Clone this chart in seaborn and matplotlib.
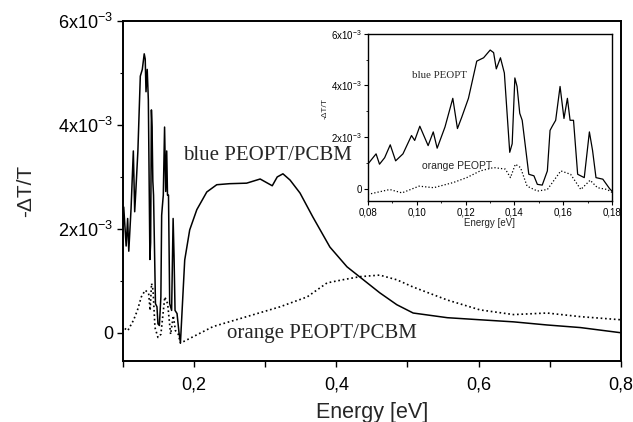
import pandas as pd
import seaborn as sns
import matplotlib
matplotlib.use("Agg")
import matplotlib.pyplot as plt
from matplotlib.ticker import FixedLocator, MultipleLocator, FuncFormatter

# photo-induced absorption, -dT/T in units of 1e-3
blue_energy = [0.080, 0.0834, 0.0848, 0.0869, 0.0892, 0.0914, 0.0944, 0.0979, 0.0992, 0.1013,
               0.1047, 0.1068, 0.1084, 0.1116, 0.1148, 0.1167, 0.1185, 0.1212, 0.1246, 0.1274,
               0.1301, 0.1315, 0.1326, 0.1343, 0.1359, 0.1381, 0.1391, 0.1402, 0.1411, 0.1422,
               0.1432, 0.1459, 0.148, 0.1494, 0.1514, 0.1535, 0.1546, 0.1555, 0.1569, 0.1587,
               0.1603, 0.1617, 0.1628, 0.1642, 0.1659, 0.1686, 0.1707, 0.1720, 0.1734, 0.1762,
               0.1790, 0.1810, 0.187, 0.194, 0.204, 0.218, 0.232, 0.250, 0.274, 0.293,
               0.310, 0.317, 0.325, 0.335, 0.349, 0.367, 0.391, 0.415, 0.438, 0.461,
               0.485, 0.508, 0.556, 0.602, 0.649, 0.696, 0.743, 0.800]
blue_signal = [0.95, 1.35, 0.95, 1.2, 1.7, 1.08, 1.35, 2.06, 1.87, 2.42,
               1.67, 2.2, 1.57, 2.39, 3.5, 2.33, 2.78, 3.5, 4.94, 5.07,
               5.37, 5.27, 4.64, 5.07, 4.48, 1.41, 1.74, 4.29, 3.96, 2.92,
               2.65, 0.56, 0.5, 0.17, 0.14, 0.69, 2.26, 2.42, 2.65, 3.96,
               2.72, 3.5, 2.65, 2.65, 0.56, 0.43, 2.2, 1.48, 0.43, 0.37,
               0.0, -0.19, 1.40, 1.98, 2.37, 2.71, 2.85, 2.87, 2.88, 2.96,
               2.83, 3.0, 3.06, 2.94, 2.69, 2.23, 1.65, 1.27, 1.02, 0.77,
               0.54, 0.38, 0.29, 0.25, 0.21, 0.15, 0.10, 0.0]

orange_energy = [0.080, 0.089, 0.094, 0.101, 0.107, 0.115, 0.1205, 0.126, 0.1315, 0.1363,
                 0.1384, 0.1404, 0.1425, 0.1452, 0.1494, 0.1535, 0.159, 0.163, 0.1672, 0.171,
                 0.174, 0.178, 0.181, 0.227, 0.274, 0.321, 0.359, 0.387, 0.409, 0.433,
                 0.461, 0.485, 0.508, 0.556, 0.602, 0.649, 0.696, 0.743, 0.800]
orange_signal = [-0.22, -0.03, -0.16, 0.10, 0.04, 0.24, 0.43, 0.69, 0.82, 0.76,
                 0.43, 0.95, 0.82, 0.10, -0.09, -0.03, 0.69, 0.56, -0.03, 0.33,
                 0.04, -0.03, -0.2, 0.12, 0.31, 0.50, 0.69, 0.96, 1.02, 1.08,
                 1.11, 1.02, 0.88, 0.63, 0.44, 0.35, 0.38, 0.31, 0.25]

y_ticks = [0, 2, 4, 6]
y_ticklabels = ["0", "2x10$^{-3}$", "4x10$^{-3}$", "6x10$^{-3}$"]

sns.set_theme(style="ticks")
plt.rcParams['font.family'] = ['Liberation Sans', 'DejaVu Sans']
plt.rcParams['mathtext.fontset'] = 'custom'
plt.rcParams['mathtext.rm'] = 'Liberation Sans'
plt.rcParams['mathtext.it'] = 'Liberation Sans:italic'
plt.rcParams['mathtext.bf'] = 'Liberation Sans:bold'
plt.rcParams['axes.edgecolor'] = 'black'
plt.rcParams['xtick.color'] = 'black'
plt.rcParams['ytick.color'] = 'black'

blue = pd.DataFrame({"energy": blue_energy, "signal": blue_signal})
orange = pd.DataFrame({"energy": orange_energy, "signal": orange_signal})
comma = FuncFormatter(lambda v, p: f"{v:.1f}".replace(".", ","))
comma2 = FuncFormatter(lambda v, p: f"{v:.2f}".replace(".", ","))
serif = ["Liberation Serif", "DejaVu Serif"]

fig = plt.figure(figsize=(6.33, 4.22), dpi=100)

# main panel
ax = fig.add_axes([0.194, 0.145, 0.787, 0.805])
sns.lineplot(data=blue, x="energy", y="signal", ax=ax, color="black", lw=1.1, sort=False)
sns.lineplot(data=orange, x="energy", y="signal", ax=ax, color="black", lw=1.2,
             linestyle=":", sort=False)
ax.set_xlim(0.1, 0.8)
ax.set_ylim(-0.54, 6)
ax.xaxis.set_major_locator(FixedLocator([0.2, 0.4, 0.6, 0.8]))
ax.xaxis.set_minor_locator(MultipleLocator(0.1))
ax.xaxis.set_major_formatter(comma)
ax.yaxis.set_major_locator(FixedLocator(y_ticks))
ax.set_yticklabels(y_ticklabels)
ax.yaxis.set_minor_locator(MultipleLocator(1))
ax.tick_params(which="major", direction="out", length=4, width=1, labelsize=13, pad=3)
ax.tick_params(axis="x", which="major", pad=7)
ax.tick_params(axis="x", which="minor", direction="out", length=4, width=1)
ax.tick_params(axis="y", which="minor", direction="out", length=2, width=0.8)
for s in ax.spines.values():
    s.set_linewidth(1.4)
ax.set_xlabel("Energy [eV]", fontsize=15.5)
ax.set_ylabel("-ΔT/T", fontsize=15)
ax.xaxis.set_label_coords(0.5, -0.12)
ax.yaxis.set_label_coords(-0.175, 0.5)
ax.text(0.184, 3.33, "blue PEOPT/PCBM", family=serif, fontsize=15, va="baseline")
ax.text(0.246, -0.1, "orange PEOPT/PCBM", family=serif, fontsize=15, va="baseline")

# inset
axin = fig.add_axes([0.581, 0.524, 0.386, 0.396])
axin.set_facecolor("white")
sns.lineplot(data=blue, x="energy", y="signal", ax=axin, color="black", lw=0.9, sort=False)
sns.lineplot(data=orange, x="energy", y="signal", ax=axin, color="black", lw=0.9,
             linestyle=":", sort=False)
axin.set_xlim(0.08, 0.18)
axin.set_ylim(-0.47, 6)
axin.xaxis.set_major_locator(MultipleLocator(0.02))
axin.xaxis.set_minor_locator(MultipleLocator(0.01))
axin.xaxis.set_major_formatter(comma2)
axin.yaxis.set_major_locator(FixedLocator(y_ticks))
axin.set_yticklabels(y_ticklabels)
axin.yaxis.set_minor_locator(MultipleLocator(1))
axin.tick_params(which="major", direction="out", length=3, width=0.8, labelsize=7, pad=1.5)
axin.tick_params(which="minor", direction="out", length=1.5, width=0.6)
for s in axin.spines.values():
    s.set_linewidth(1.0)
axin.set_xlabel("Energy [eV]", fontsize=7)
axin.set_ylabel("-ΔT/T", fontsize=6)
axin.xaxis.set_label_coords(0.5, -0.1)
axin.yaxis.set_label_coords(-0.16, 0.55)
axin.text(0.098, 4.3, "blue PEOPT", family=serif, fontsize=7.8, va="baseline")
axin.text(0.1022, 0.78, "orange PEOPT", fontsize=7.5, va="baseline")

fig.savefig("out.png", dpi=100)
